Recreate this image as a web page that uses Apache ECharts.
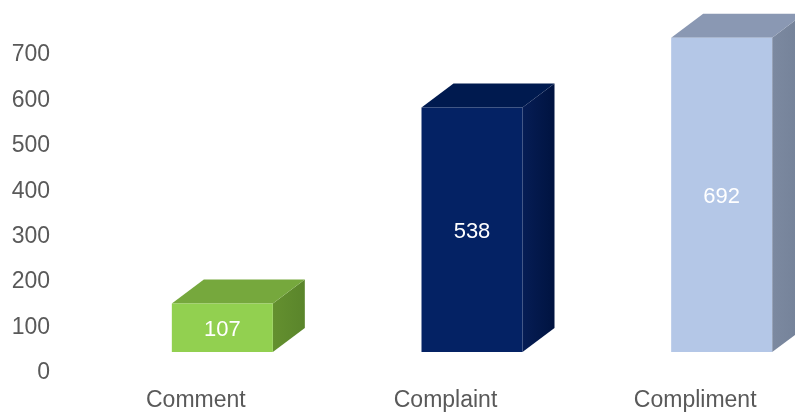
<!DOCTYPE html>
<html>
<head>
<meta charset="utf-8">
<script src="https://cdn.jsdelivr.net/npm/echarts@6/dist/echarts.min.js"></script>
<style>
  html, body { margin: 0; padding: 0; background: #fff; }
  #main { width: 795px; height: 412px; }
</style>
</head>
<body>
<div id="main"></div>
<script>
// chart data
var categories = ['Comment', 'Complaint', 'Compliment'];
var counts = [107, 538, 692];
var yTicks = [0, 100, 200, 300, 400, 500, 600, 700];

// face colours per bar: front, top, side (light -> dark)
var frontColors = ['#92d050', '#042264', '#b4c7e7'];
var topColors = ['#76a83d', '#001a4f', '#8a98b3'];
var sideLight = ['#64902f', '#061d55', '#7c89a0'];
var sideDark = ['#5a852b', '#001340', '#738198'];

var myChart = echarts.init(document.getElementById('main'));

// 3d box drawn from the value scale
function renderBox(params, api) {
    var idx = api.value(0);
    var val = api.value(1);
    var base = api.coord([idx, 0]);
    var tip = api.coord([idx, val]);
    var lift = 21;      // front face sits above the axis floor
    var dx = 32, dy = 24;
    var x0 = base[0] - 24;
    var x1 = base[0] + 77;
    var yb = base[1] - lift;
    var yt = tip[1] - lift;
    return {
        type: 'group',
        children: [
            {
                type: 'polygon',
                shape: { points: [[x1, yb], [x1 + dx, yb - dy], [x1 + dx, yt - dy], [x1, yt]] },
                style: {
                    fill: new echarts.graphic.LinearGradient(0, 0, 1, 0, [
                        { offset: 0, color: sideLight[idx] },
                        { offset: 1, color: sideDark[idx] }
                    ])
                }
            },
            {
                type: 'polygon',
                shape: { points: [[x0, yt], [x0 + dx, yt - dy], [x1 + dx, yt - dy], [x1, yt]] },
                style: { fill: topColors[idx] }
            },
            {
                type: 'rect',
                shape: { x: x0, y: yt, width: x1 - x0, height: yb - yt },
                style: { fill: frontColors[idx] }
            },
            {
                type: 'text',
                x: (x0 + x1) / 2,
                y: (yt + yb) / 2 + 2,
                style: {
                    text: String(val),
                    fill: '#ffffff',
                    font: '22px "Liberation Sans", Arial, sans-serif',
                    align: 'center',
                    verticalAlign: 'middle'
                }
            }
        ]
    };
}

option = {
    animation: false,
    backgroundColor: '#ffffff',
    grid: {
        left: 71,
        right: -25,
        top: 55,
        bottom: 39,
        outerBoundsMode: 'none'
    },
    xAxis: {
        type: 'category',
        data: categories,
        axisLine: { show: false },
        axisTick: { show: false },
        axisLabel: {
            margin: 16,
            color: '#595959',
            fontSize: 23,
            fontFamily: '"Liberation Sans", Arial, sans-serif'
        }
    },
    yAxis: {
        type: 'value',
        min: yTicks[0],
        max: yTicks[yTicks.length - 1],
        interval: 100,
        offset: 13,
        axisLine: { show: false },
        axisTick: { show: false },
        splitLine: { show: false },
        axisLabel: {
            margin: 8,
            color: '#595959',
            fontSize: 23,
            fontFamily: '"Liberation Sans", Arial, sans-serif'
        }
    },
    series: [
        {
            type: 'custom',
            renderItem: renderBox,
            encode: { x: 0, y: 1 },
            data: counts.map(function (v, i) { return [i, v]; }),
            clip: false
        }
    ]
};

myChart.setOption(option);
</script>
</body>
</html>
